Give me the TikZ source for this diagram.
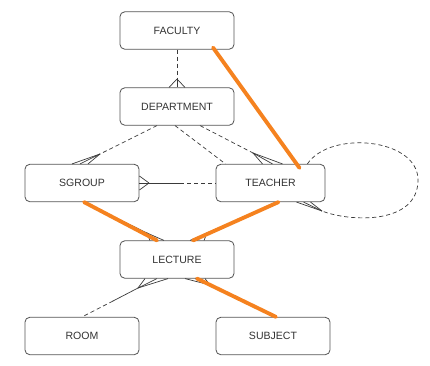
\documentclass[tikz,border=0pt]{standalone}
\usepackage{fontspec}
\setmainfont{Liberation Sans}
\usetikzlibrary{calc}

\begin{document}
\begin{tikzpicture}[x=0.03cm, y=-0.03cm]
    % Define colours
    \definecolor{borderColour}{HTML}{555555}
    \definecolor{linkColour}{HTML}{3A3A3A}
    \definecolor{markColour}{HTML}{F5821F}

    \tikzset{
        entity/.style={draw=borderColour, line width=0.7pt, rounded corners=4pt, fill=white,
            minimum width=3.42cm, minimum height=1.12cm, inner sep=0pt,
            text=black!80, font=\fontsize{9}{11}\selectfont},
        link/.style={draw=linkColour, line width=0.6pt},
        optional/.style={link, dash pattern=on 3.5pt off 2.5pt},
        highlight/.style={draw=markColour, line width=3.3pt, line cap=round}
    }

    % Fix picture size
    \useasboundingbox (0,0) rectangle (430,365);

    % Draw entities
    \node[entity] (faculty) at (177,30.5) {FACULTY};
    \node[entity] (department) at (177,106.5) {DEPARTMENT};
    \node[entity] (sgroup) at (82,183) {SGROUP};
    \node[entity, minimum width=3.27cm] (teacher) at (270.5,183) {TEACHER};
    \node[entity] (lecture) at (177,259.5) {LECTURE};
    \node[entity] (room) at (82,336) {ROOM};
    \node[entity] (subject) at (273,336) {SUBJECT};

    % Define crow's foot apexes
    \coordinate (fdApex) at (177,79);
    \coordinate (dsApex) at (100,154);
    \coordinate (dtApex) at (253,153);
    \coordinate (stApex) at (149,183);
    \coordinate (ttApex) at (322,211);
    \coordinate (slApex) at (147,233);
    \coordinate (tlApex) at (207,233);
    \coordinate (lrApex) at (138,288);
    \coordinate (lsApex) at (210,285);
    \coordinate (stBreak) at (180,183);
    \coordinate (lrBreak) at (113,301);

    % FACULTY - DEPARTMENT
    \draw[optional] (faculty.south) -- (fdApex);
    \foreach \dx in {-8,0,8}
        \draw[link] (fdApex) -- ($(department.north)+(\dx,0)$);

    % DEPARTMENT - SGROUP
    \draw[optional] ($(department.south)+(-20,0)$) -- (dsApex);
    \foreach \dx in {-10,-2,6}
        \draw[link] (dsApex) -- ($(sgroup.north)+(\dx,0)$);

    % DEPARTMENT - TEACHER
    \draw[optional] ($(department.south)+(-2,0)$) -- ($(teacher.north)+(-45,0)$);
    \draw[optional] ($(department.south)+(23,0)$) -- (dtApex);
    \foreach \dx in {-8,2,12}
        \draw[link] (dtApex) -- ($(teacher.north)+(\dx,0)$);

    % SGROUP - TEACHER
    \foreach \dy in {-7,0,7}
        \draw[link] (stApex) -- ($(sgroup.east)+(0,\dy)$);
    \draw[link] (stApex) -- (stBreak);
    \draw[optional] (stBreak) -- (teacher.west);

    % TEACHER - TEACHER
    \draw[optional] ($(teacher.north east)+(-18,0)$) .. controls (330,130) and (418,138) .. (418,180)
        .. controls (418,225) and (350,222) .. (ttApex);
    \foreach \dx in {26,33,40}
        \draw[link] (ttApex) -- ($(teacher.south)+(\dx,0)$);

    % SGROUP - LECTURE and TEACHER - LECTURE
    \draw[link] ($(sgroup.south)+(2,0)$) -- (slApex);
    \foreach \dx in {-27,-20,-13}
        \draw[link] (slApex) -- ($(lecture.north)+(\dx,0)$);
    \draw[link] ($(teacher.south)+(8,0)$) -- (tlApex);
    \foreach \dx in {13,20,27}
        \draw[link] (tlApex) -- ($(lecture.north)+(\dx,0)$);

    % LECTURE - ROOM
    \foreach \dx in {-32,-20,-9}
        \draw[link] (lrApex) -- ($(lecture.south)+(\dx,0)$);
    \draw[link] (lrApex) -- (lrBreak);
    \draw[optional] (lrBreak) -- (room.north);

    % LECTURE - SUBJECT
    \foreach \dx in {8,18,28}
        \draw[link] (lsApex) -- ($(lecture.south)+(\dx,0)$);
    \draw[link] (lsApex) -- ($(subject.north)+(3,0)$);

    % Highlighted path
    \draw[highlight] ($(faculty.south)+(36,-2)$) -- ($(teacher.north)+(29,4)$);
    \draw[highlight] ($(sgroup.south)+(2,0)$) -- ($(lecture.north)+(-20,0)$);
    \draw[highlight] ($(teacher.south)+(8,0)$) -- ($(lecture.north)+(16,0)$);
    \draw[highlight] ($(lecture.south)+(20,0)$) -- ($(subject.north)+(3,0)$);

\end{tikzpicture}
\end{document}
